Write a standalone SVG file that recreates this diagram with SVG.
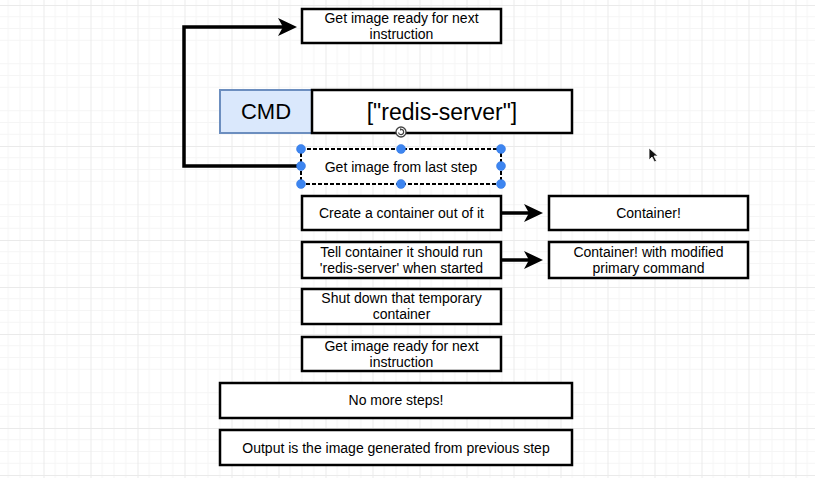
<svg xmlns="http://www.w3.org/2000/svg" width="815" height="478" viewBox="0 0 815 478">
  <defs>
    <!-- background grid: minor lines every 11.75px, major every 47px -->
    <pattern id="grid" x="43.5" y="5" width="47" height="47" patternUnits="userSpaceOnUse">
      <path d="M11.75 0V47M23.5 0V47M35.25 0V47M0 11.75H47M0 23.5H47M0 35.25H47" stroke="#f5f5f5" stroke-width="1" fill="none"/>
      <path d="M0.5 0V47M0 0.5H47" stroke="#eaeaea" stroke-width="1" fill="none"/>
    </pattern>
    <!-- classic arrowhead; path ends at the notch (x=5), tip at x=19 -->
    <marker id="arrow" viewBox="0 -10 20 20" refX="5" refY="0" markerWidth="20" markerHeight="20" markerUnits="userSpaceOnUse" orient="auto">
      <path d="M19 0 L0 -9 L5 0 L0 9 Z" fill="#000"/>
    </marker>
    <style>
      .box { fill: #fff; stroke: #000; stroke-width: 2.5; }
      .cmd { fill: #dae8fc; stroke: #6c8ebf; stroke-width: 2; }
      .lbl { font-family: "Liberation Sans", Arial, sans-serif; font-size: 14px; fill: #000; text-anchor: middle; }
      .big { font-family: "Liberation Sans", Arial, sans-serif; fill: #000; text-anchor: middle; }
      .edge { fill: none; stroke: #000; stroke-width: 3.5; }
      .handle { fill: #3d85f0; stroke: #2f74e0; stroke-width: 0.5; }
    </style>
  </defs>

  <rect x="0" y="0" width="815" height="478" fill="#fff"/>
  <rect x="0" y="0" width="815" height="478" fill="url(#grid)"/>

  <!-- connectors -->
  <g id="connectors">
    <path class="edge" d="M300 166 H184 V27 H283" marker-end="url(#arrow)"/>
    <path class="edge" d="M502 213 H529" marker-end="url(#arrow)"/>
    <path class="edge" d="M502 260 H529" marker-end="url(#arrow)"/>
  </g>

  <g id="ready-top">
    <rect class="box" x="302" y="9" width="199" height="34"/>
    <text class="lbl" x="401.5" y="23">Get image ready for next</text>
    <text class="lbl" x="401.5" y="39">instruction</text>
  </g>

  <g id="cmd">
    <rect class="cmd" x="220" y="90" width="92" height="43"/>
    <text class="big" x="266" y="119" font-size="22">CMD</text>
  </g>

  <g id="cmd-arg">
    <rect class="box" x="312" y="90" width="260" height="43"/>
    <text class="big" x="442" y="120" font-size="23">["redis-server"]</text>
  </g>

  <g id="from-last-step">
    <rect x="301" y="149" width="200" height="35" fill="#fff" stroke="#000" stroke-width="2" stroke-dasharray="4 2"/>
    <text class="lbl" x="401" y="172">Get image from last step</text>
    <!-- selection handles -->
    <circle class="handle" cx="301" cy="149" r="4.5"/>
    <circle class="handle" cx="401" cy="149" r="4.5"/>
    <circle class="handle" cx="501" cy="149" r="4.5"/>
    <circle class="handle" cx="301" cy="166" r="4.5"/>
    <circle class="handle" cx="501" cy="166" r="4.5"/>
    <circle class="handle" cx="301" cy="184" r="4.5"/>
    <circle class="handle" cx="401" cy="184" r="4.5"/>
    <circle class="handle" cx="501" cy="184" r="4.5"/>
    <!-- rotation handle -->
    <g transform="translate(401 132)">
      <circle r="5" fill="#fff" stroke="#444" stroke-width="1.3"/>
      <path d="M-2.5 0.5 A2.6 2.6 0 1 0 0 -2.6" fill="none" stroke="#444" stroke-width="1.2"/>
      <path d="M-1 -4 L1 -2.6 L-1 -1.2 Z" fill="#444"/>
    </g>
  </g>

  <g id="create-container">
    <rect class="box" x="302" y="196" width="199" height="34"/>
    <text class="lbl" x="401.5" y="218">Create a container out of it</text>
  </g>

  <g id="container">
    <rect class="box" x="549" y="196" width="199" height="34"/>
    <text class="lbl" x="648.5" y="218">Container!</text>
  </g>

  <g id="tell-container">
    <rect class="box" x="302" y="242" width="199" height="36"/>
    <text class="lbl" x="401.5" y="257">Tell container it should run</text>
    <text class="lbl" x="401.5" y="273">'redis-server' when started</text>
  </g>

  <g id="container-modified">
    <rect class="box" x="549" y="242" width="199" height="36"/>
    <text class="lbl" x="648.5" y="257">Container! with modified</text>
    <text class="lbl" x="648.5" y="273">primary command</text>
  </g>

  <g id="shut-down">
    <rect class="box" x="302" y="289" width="199" height="35"/>
    <text class="lbl" x="401.5" y="303">Shut down that temporary</text>
    <text class="lbl" x="401.5" y="319">container</text>
  </g>

  <g id="ready-bottom">
    <rect class="box" x="302" y="337" width="199" height="34"/>
    <text class="lbl" x="401.5" y="351">Get image ready for next</text>
    <text class="lbl" x="401.5" y="367">instruction</text>
  </g>

  <g id="no-more-steps">
    <rect class="box" x="220" y="383" width="352" height="35"/>
    <text class="lbl" x="396" y="405">No more steps!</text>
  </g>

  <g id="output">
    <rect class="box" x="220" y="430" width="352" height="35"/>
    <text class="lbl" x="396" y="453">Output is the image generated from previous step</text>
  </g>

  <!-- mouse pointer -->
  <path d="M649 148 L649 160 L652 157 L654.5 162 L656.5 161 L654 156 L658 156 Z" fill="#111" stroke="#fff" stroke-width="0.8"/>
</svg>
